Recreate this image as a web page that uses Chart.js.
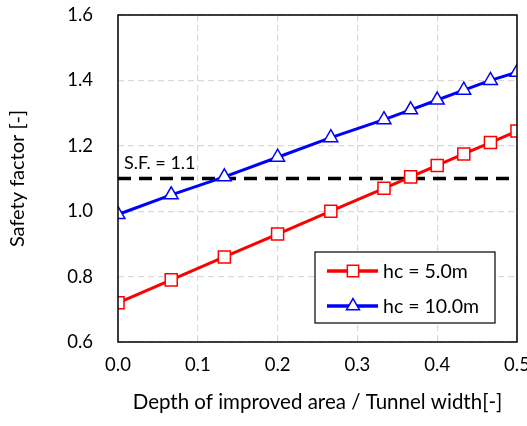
<!DOCTYPE html>
<html>
<head>
<meta charset="utf-8">
<script src="https://cdn.jsdelivr.net/npm/chart.js@4.4.0/dist/chart.umd.min.js"></script>
<style>
  html, body { margin: 0; padding: 0; background: #fff; }
  #wrap { width: 527px; height: 426px; position: relative; }
</style>
</head>
<body>
<div id="wrap"><canvas id="chart" width="527" height="426"></canvas></div>
<script>
// depth of improved area / tunnel width
var depthRatio = [0, 0.0667, 0.1333, 0.2, 0.2667, 0.3333, 0.3667, 0.4, 0.4333, 0.4667, 0.5];
var sfHc5 = [0.72, 0.79, 0.86, 0.93, 1.00, 1.07, 1.105, 1.14, 1.175, 1.21, 1.245];
var sfHc10 = [0.99, 1.05, 1.105, 1.165, 1.225, 1.28, 1.31, 1.34, 1.37, 1.40, 1.425];
var seriesLabels = ['hc = 5.0m', 'hc = 10.0m'];
var sfLimit = 1.1;
var sfLabel = 'S.F. = 1.1';
var xTicks = [0, 0.1, 0.2, 0.3, 0.4, 0.5];
var yTicks = [0.6, 0.8, 1.0, 1.2, 1.4, 1.6];

var FONT = 'Lato, "Open Sans", sans-serif';

function toPoints(xs, ys) {
  return xs.map(function (x, i) { return { x: x, y: ys[i] }; });
}

// frame around plot area
var framePlugin = {
  id: 'frame',
  afterDraw: function (chart) {
    var a = chart.chartArea, ctx = chart.ctx;
    ctx.save();
    ctx.strokeStyle = '#000';
    ctx.lineWidth = 1.5;
    ctx.strokeRect(a.left, a.top, a.right - a.left, a.bottom - a.top);
    ctx.restore();
  }
};

// "S.F. = 1.1" label above dashed line
var sfLabelPlugin = {
  id: 'sfLabel',
  afterDatasetsDraw: function (chart) {
    var ctx = chart.ctx;
    var x = chart.scales.x.getPixelForValue(0);
    var y = chart.scales.y.getPixelForValue(sfLimit);
    ctx.save();
    ctx.font = '18px ' + FONT;
    ctx.fillStyle = '#000';
    ctx.textBaseline = 'bottom';
    ctx.fillText(sfLabel, x + 6, y - 6);
    ctx.restore();
  }
};

// boxed legend inside the plot
var boxLegendPlugin = {
  id: 'boxLegend',
  afterDraw: function (chart) {
    var ctx = chart.ctx;
    var bx = 315, by = 252, bw = 180, bh = 71;
    ctx.save();
    ctx.fillStyle = '#fff';
    ctx.fillRect(bx, by, bw, bh);
    ctx.strokeStyle = '#000';
    ctx.lineWidth = 1.2;
    ctx.strokeRect(bx, by, bw, bh);
    ctx.font = '19.5px ' + FONT;
    ctx.textBaseline = 'middle';
    [0, 1].forEach(function (i) {
      var ds = chart.data.datasets[i];
      var cy = by + 19 + i * 35;
      ctx.strokeStyle = ds.borderColor;
      ctx.lineWidth = 3.5;
      ctx.beginPath();
      ctx.moveTo(bx + 12, cy);
      ctx.lineTo(bx + 63, cy);
      ctx.stroke();
      ctx.fillStyle = '#fff';
      ctx.lineWidth = ds.pointBorderWidth;
      Chart.helpers.drawPoint(ctx, {
        pointStyle: ds.pointStyle,
        radius: ds.pointRadius - 0.5,
        borderWidth: ds.pointBorderWidth,
        rotation: 0
      }, bx + 38, cy);
      ctx.fillStyle = '#000';
      ctx.fillText(ds.label, bx + 68, cy + 1);
    });
    ctx.restore();
  }
};

function createSafetyChart() {
  var ctx = document.getElementById('chart').getContext('2d');
  new Chart(ctx, {
    type: 'line',
    data: {
      datasets: [{
        label: seriesLabels[0],
        data: toPoints(depthRatio, sfHc5),
        borderColor: 'rgb(255, 0, 0)',
        backgroundColor: '#fff',
        borderWidth: 3,
        pointStyle: 'rect',
        pointRadius: 8.5,
        pointBorderWidth: 1.5,
        pointBorderColor: 'rgb(255, 0, 0)',
        pointBackgroundColor: '#fff'
      }, {
        label: seriesLabels[1],
        data: toPoints(depthRatio, sfHc10),
        borderColor: 'rgb(0, 0, 255)',
        backgroundColor: '#fff',
        borderWidth: 3,
        pointStyle: 'triangle',
        pointRadius: 8,
        pointBorderWidth: 1.5,
        pointBorderColor: 'rgb(0, 0, 255)',
        pointBackgroundColor: '#fff'
      }, {
        label: 'limit',
        data: toPoints([xTicks[0], xTicks[xTicks.length - 1]], [sfLimit, sfLimit]),
        borderColor: '#000',
        borderWidth: 3.5,
        borderDash: [13, 8],
        pointRadius: 0,
        order: 5
      }]
    },
    options: {
      responsive: false,
      animation: false,
      layout: { padding: { left: 0, right: 10, top: 15, bottom: 0 } },
      plugins: {
        legend: { display: false },
        tooltip: { enabled: false }
      },
      scales: {
        x: {
          type: 'linear',
          min: xTicks[0],
          max: xTicks[xTicks.length - 1],
          afterBuildTicks: function (s) { s.ticks = xTicks.map(function (v) { return { value: v }; }); },
          afterFit: function (s) { s.height = 84; s.paddingLeft = 0; s.paddingRight = 0; },
          grid: { color: '#d9d9d9', lineWidth: 1.2, borderDash: [6, 4], drawTicks: false },
          border: { display: false, dash: [6, 4] },
          ticks: {
            padding: 12,
            color: '#000',
            font: { family: FONT, size: 18.5 },
            callback: function (v) { return Number(v).toFixed(1); }
          },
          title: {
            display: true,
            text: 'Depth of improved area / Tunnel width[-]',
            color: '#000',
            font: { family: FONT, size: 20.5 },
            padding: { top: 0, bottom: 11 }
          }
        },
        y: {
          min: yTicks[0],
          max: yTicks[yTicks.length - 1],
          afterBuildTicks: function (s) { s.ticks = yTicks.map(function (v) { return { value: v }; }); },
          afterFit: function (s) { s.width = 118; s.paddingTop = 0; s.paddingBottom = 0; },
          grid: { color: '#d9d9d9', lineWidth: 1.2, borderDash: [6, 4], drawTicks: false },
          border: { display: false, dash: [6, 4] },
          ticks: {
            padding: 25,
            color: '#000',
            font: { family: FONT, size: 18.5 },
            callback: function (v) { return Number(v).toFixed(1); }
          },
          title: {
            display: true,
            text: 'Safety factor [-]',
            color: '#000',
            font: { family: FONT, size: 20 },
            padding: { top: 6, bottom: 0 }
          }
        }
      }
    },
    plugins: [framePlugin, sfLabelPlugin, boxLegendPlugin]
  });
}

window.addEventListener('load', function () {
  createSafetyChart();
});
</script>
</body>
</html>
